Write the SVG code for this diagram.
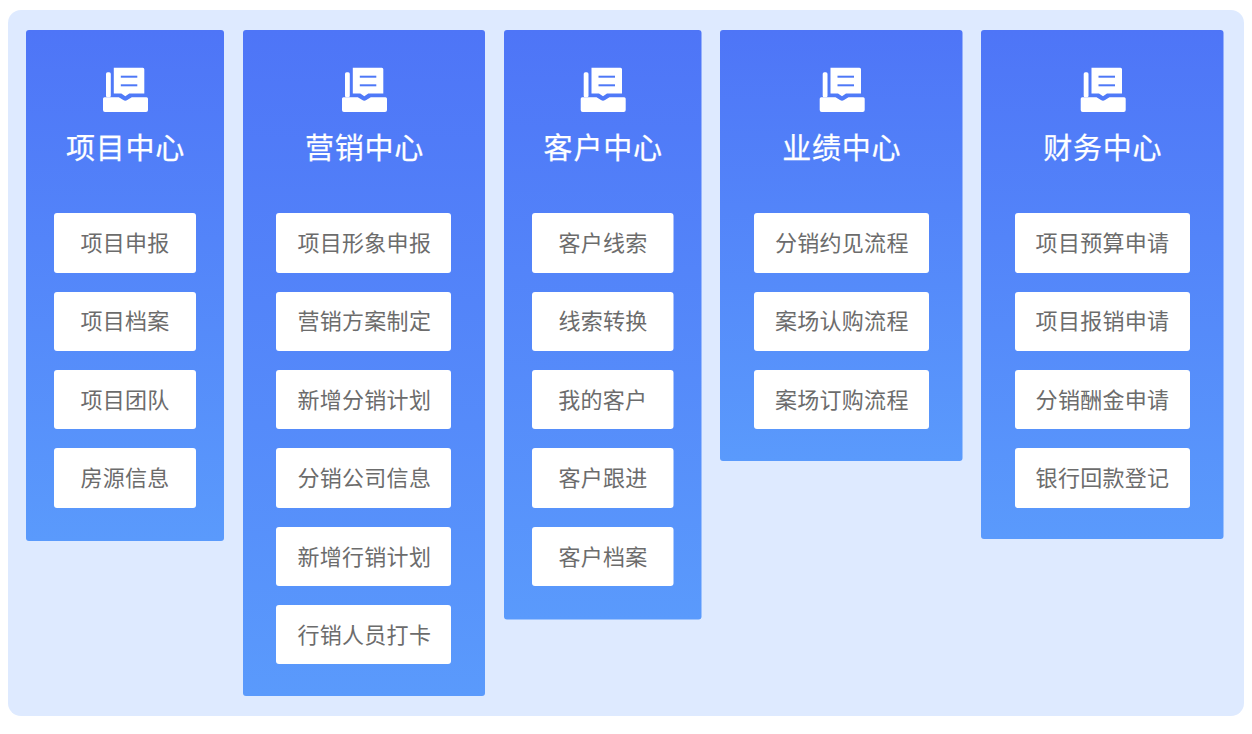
<svg xmlns="http://www.w3.org/2000/svg" width="1252" height="734" viewBox="0 0 1252 734">
<defs>
<linearGradient id="colGrad" x1="0" y1="0" x2="0" y2="1"><stop offset="0" stop-color="#4e75f7"/><stop offset="1" stop-color="#5a9afc"/></linearGradient>
<g id="icon">
<rect x="-19.300" y="-25" width="4.800" height="25" rx="1.600" fill="#fff"/>
<path d="M-11.500-29.500H17.500a1.500 1.500 0 0 1 1.500 1.500V-3.800H4L0-1-4-3.800H-11.500Z" fill="#fff"/>
<rect x="-4.500" y="-21.600" width="16.500" height="2" fill="#4e78f7"/>
<rect x="-4.500" y="-13" width="16.500" height="2" fill="#4e78f7"/>
<path d="M-22.300 1.500a1.500 1.500 0 0 1 1.500-1.500H-6.500L-2 2.800Q0 4 2 2.800L6.500 0H21.200a1.500 1.500 0 0 1 1.500 1.500V12.800a2 2 0 0 1-2 2H-20.300a2 2 0 0 1-2-2Z" fill="#fff"/>
</g>
</defs>
<style>
.col{fill:url(#colGrad)}
.item{fill:#fff}
text{font-family:"Noto Sans CJK SC","Noto Sans",sans-serif;text-anchor:middle}
.title{fill:#fff;font-size:29px;letter-spacing:.8px;font-weight:400;stroke:#fff;stroke-width:.25px}
.label{fill:#6c6c6c;font-size:22px;letter-spacing:.300px}
</style>
<rect x="8" y="10" width="1236" height="706" rx="13" fill="#deeaff"/>
<g id="connectors"/>
<g id="node-project">
<rect class="col" x="26" y="30" width="198" height="511" rx="3"/><use href="#icon" x="125.300" y="97.300"/>
<text class="title" x="125.500" y="159">项目中心</text>
<rect class="item" x="54" y="213" width="142" height="60" rx="3"/><text class="label" x="125" y="251">项目申报</text>
<rect class="item" x="54" y="292" width="142" height="59" rx="3"/><text class="label" x="125" y="329">项目档案</text>
<rect class="item" x="54" y="370" width="142" height="59" rx="3"/><text class="label" x="125" y="407.500">项目团队</text>
<rect class="item" x="54" y="448" width="142" height="60" rx="3"/><text class="label" x="125" y="486">房源信息</text>
</g>
<g id="node-marketing">
<rect class="col" x="243" y="30" width="242" height="666" rx="3"/><use href="#icon" x="364.300" y="97.300"/>
<text class="title" x="364.500" y="159">营销中心</text>
<rect class="item" x="276" y="213" width="175" height="60" rx="3"/><text class="label" x="364.300" y="251">项目形象申报</text>
<rect class="item" x="276" y="292" width="175" height="59" rx="3"/><text class="label" x="364.300" y="329">营销方案制定</text>
<rect class="item" x="276" y="370" width="175" height="59" rx="3"/><text class="label" x="364.300" y="407.500">新增分销计划</text>
<rect class="item" x="276" y="448" width="175" height="60" rx="3"/><text class="label" x="364.300" y="486">分销公司信息</text>
<rect class="item" x="276" y="527" width="175" height="59" rx="3"/><text class="label" x="364.300" y="564.500">新增行销计划</text>
<rect class="item" x="276" y="605" width="175" height="59" rx="3"/><text class="label" x="364.300" y="642.500">行销人员打卡</text>
</g>
<g id="node-customer">
<rect class="col" x="504" y="30" width="197.500" height="589.500" rx="3"/><use href="#icon" x="603" y="97.300"/>
<text class="title" x="603.200" y="159">客户中心</text>
<rect class="item" x="532" y="213" width="141.500" height="60" rx="3"/><text class="label" x="603" y="251">客户线索</text>
<rect class="item" x="532" y="292" width="141.500" height="59" rx="3"/><text class="label" x="603" y="329">线索转换</text>
<rect class="item" x="532" y="370" width="141.500" height="59" rx="3"/><text class="label" x="602.800" y="407.500">我的客户</text>
<rect class="item" x="532" y="448" width="141.500" height="60" rx="3"/><text class="label" x="603" y="486">客户跟进</text>
<rect class="item" x="532" y="527" width="141.500" height="59" rx="3"/><text class="label" x="603" y="564.500">客户档案</text>
</g>
<g id="node-performance">
<rect class="col" x="720" y="30" width="242.500" height="431" rx="3"/><use href="#icon" x="842" y="97.300"/>
<text class="title" x="841.800" y="159">业绩中心</text>
<rect class="item" x="754" y="213" width="175" height="60" rx="3"/><text class="label" x="841.800" y="251">分销约见流程</text>
<rect class="item" x="754" y="292" width="175" height="59" rx="3"/><text class="label" x="841.800" y="329">案场认购流程</text>
<rect class="item" x="754" y="370" width="175" height="59" rx="3"/><text class="label" x="841.800" y="407.500">案场订购流程</text>
</g>
<g id="node-finance">
<rect class="col" x="981" y="30" width="242.500" height="509" rx="3"/><use href="#icon" x="1103" y="97.300"/>
<text class="title" x="1102.800" y="159">财务中心</text>
<rect class="item" x="1015" y="213" width="175" height="60" rx="3"/><text class="label" x="1102.500" y="251">项目预算申请</text>
<rect class="item" x="1015" y="292" width="175" height="59" rx="3"/><text class="label" x="1102.500" y="329">项目报销申请</text>
<rect class="item" x="1015" y="370" width="175" height="59" rx="3"/><text class="label" x="1102.500" y="407.500">分销酬金申请</text>
<rect class="item" x="1015" y="448" width="175" height="60" rx="3"/><text class="label" x="1102.500" y="486">银行回款登记</text>
</g>
</svg>
